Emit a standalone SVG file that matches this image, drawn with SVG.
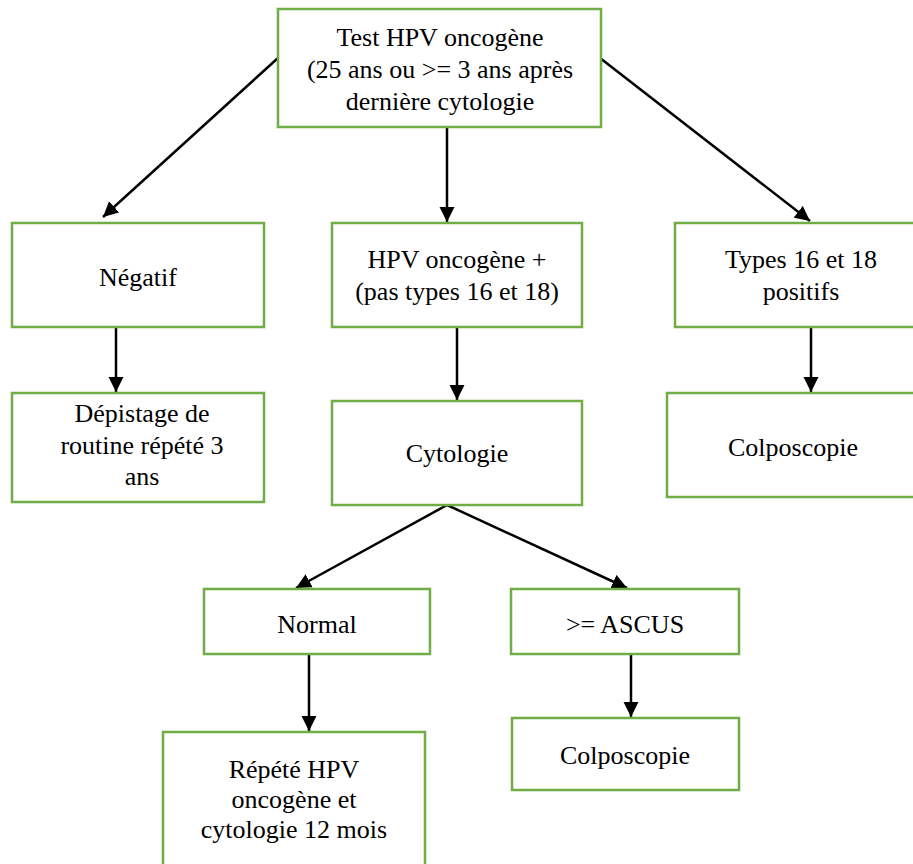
<svg xmlns="http://www.w3.org/2000/svg" width="913" height="864" viewBox="0 0 913 864">
<style>
.box{fill:#fff;stroke:#70ad47;stroke-width:2.5}
.t{font-size:26px;fill:#000;text-anchor:middle}
.c{stroke:#000;stroke-width:2.5;fill:none;marker-end:url(#ah)}
</style>
<defs>
<marker id="ah" viewBox="0 0 10 10" refX="10" refY="5" markerWidth="6" markerHeight="6.5" markerUnits="strokeWidth" orient="auto">
<path d="M0,0 L10,5 L0,10 Z" fill="#000"/>
</marker>
</defs>
<rect width="913" height="864" fill="#fff"/>
<g id="connectors">
<line class="c" x1="278" y1="58" x2="103" y2="217"/>
<line class="c" x1="447" y1="127" x2="447" y2="222"/>
<line class="c" x1="600" y1="58" x2="810" y2="221"/>
<line class="c" x1="116" y1="327" x2="116" y2="392"/>
<line class="c" x1="457" y1="327" x2="457" y2="400"/>
<line class="c" x1="811" y1="327" x2="811" y2="392"/>
<line class="c" x1="447" y1="505" x2="296" y2="588"/>
<line class="c" x1="447" y1="505" x2="627" y2="588"/>
<line class="c" x1="309" y1="654" x2="309" y2="731"/>
<line class="c" x1="631" y1="654" x2="631" y2="717"/>
</g>
<g id="n-test" font-family="Liberation Serif">
<rect class="box" x="278" y="9" width="323" height="118"/>
<text class="t" x="440" y="46">Test HPV oncogène</text>
<text class="t" x="440" y="78">(25 ans ou &gt;= 3 ans après</text>
<text class="t" x="440" y="110">dernière cytologie</text>
</g>
<g id="n-negatif" font-family="Liberation Serif">
<rect class="box" x="12" y="223" width="252" height="104"/>
<text class="t" x="138" y="286">Négatif</text>
</g>
<g id="n-hpvplus" font-family="Liberation Serif">
<rect class="box" x="332" y="223" width="250" height="104"/>
<text class="t" x="457" y="268">HPV oncogène +</text>
<text class="t" x="457" y="300">(pas types 16 et 18)</text>
</g>
<g id="n-types" font-family="Liberation Serif">
<rect class="box" x="675" y="223" width="250" height="104"/>
<text class="t" x="801" y="268">Types 16 et 18</text>
<text class="t" x="801" y="300">positifs</text>
</g>
<g id="n-depistage" font-family="Liberation Serif">
<rect class="box" x="12" y="393" width="252" height="109"/>
<text class="t" x="142" y="422">Dépistage de</text>
<text class="t" x="142" y="454">routine répété 3</text>
<text class="t" x="142" y="485">ans</text>
</g>
<g id="n-cytologie" font-family="Liberation Serif">
<rect class="box" x="332" y="401" width="250" height="104"/>
<text class="t" x="457" y="462">Cytologie</text>
</g>
<g id="n-colpo1" font-family="Liberation Serif">
<rect class="box" x="667" y="393" width="260" height="104"/>
<text class="t" x="793" y="456">Colposcopie</text>
</g>
<g id="n-normal" font-family="Liberation Serif">
<rect class="box" x="204" y="589" width="226" height="65"/>
<text class="t" x="317" y="633">Normal</text>
</g>
<g id="n-ascus" font-family="Liberation Serif">
<rect class="box" x="511" y="589" width="228" height="65"/>
<text class="t" x="625" y="633">&gt;= ASCUS</text>
</g>
<g id="n-colpo2" font-family="Liberation Serif">
<rect class="box" x="512" y="718" width="227" height="72"/>
<text class="t" x="625" y="764">Colposcopie</text>
</g>
<g id="n-repete" font-family="Liberation Serif">
<rect class="box" x="163" y="732" width="262" height="150"/>
<text class="t" x="294" y="778">Répété HPV</text>
<text class="t" x="294" y="808">oncogène et</text>
<text class="t" x="294" y="838">cytologie 12 mois</text>
</g>
</svg>
